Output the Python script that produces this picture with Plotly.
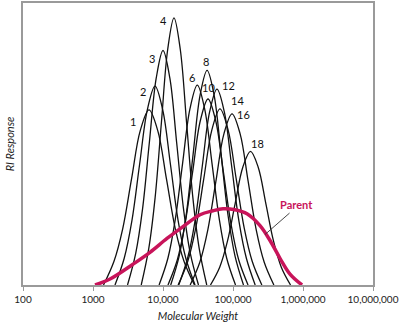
import plotly.graph_objects as go

# Fraction curves: log10(molecular weight) sample points and RI response
frac_labels = ["1", "2", "3", "4", "6", "8", "10", "12", "14", "16", "18"]

frac_logmw = [
    [3.150, 3.300, 3.425, 3.550, 3.675, 3.800, 3.925, 4.050, 4.175, 4.300, 4.450],
    [3.314, 3.446, 3.556, 3.666, 3.776, 3.886, 3.996, 4.106, 4.216, 4.326, 4.458],
    [3.493, 3.610, 3.708, 3.805, 3.903, 4.000, 4.098, 4.195, 4.293, 4.390, 4.507],
    [3.689, 3.797, 3.887, 3.977, 4.067, 4.157, 4.247, 4.337, 4.427, 4.517, 4.625],
    [3.944, 4.070, 4.175, 4.280, 4.385, 4.490, 4.595, 4.700, 4.805, 4.910, 5.036],
    [4.110, 4.230, 4.330, 4.430, 4.530, 4.630, 4.730, 4.830, 4.930, 5.030, 5.150],
    [4.071, 4.203, 4.313, 4.423, 4.533, 4.643, 4.753, 4.863, 4.973, 5.083, 5.215],
    [4.225, 4.351, 4.456, 4.561, 4.666, 4.771, 4.876, 4.981, 5.086, 5.191, 5.317],
    [4.216, 4.354, 4.469, 4.584, 4.699, 4.814, 4.929, 5.044, 5.159, 5.274, 5.412],
    [4.388, 4.526, 4.641, 4.756, 4.871, 4.986, 5.101, 5.216, 5.331, 5.446, 5.584],
    [4.678, 4.810, 4.920, 5.030, 5.140, 5.250, 5.360, 5.470, 5.580, 5.690, 5.822],
]

frac_resp = [
    [0, 24, 57, 107, 156, 177, 156, 107, 57, 24, 0],
    [0, 27, 65, 122, 177, 201, 177, 122, 65, 27, 0],
    [0, 32, 77, 144, 209, 237, 209, 144, 77, 32, 0],
    [0, 37, 88, 164, 238, 270, 238, 164, 88, 37, 0],
    [0, 27, 66, 123, 178, 202, 178, 123, 66, 27, 0],
    [0, 29, 70, 132, 192, 217, 192, 132, 70, 29, 0],
    [0, 25, 61, 114, 166, 188, 166, 114, 61, 25, 0],
    [0, 27, 64, 120, 175, 198, 175, 120, 64, 27, 0],
    [0, 24, 58, 108, 157, 178, 157, 108, 58, 24, 0],
    [0, 23, 56, 105, 153, 173, 153, 105, 56, 23, 0],
    [0, 18, 44, 82, 119, 135, 119, 82, 44, 18, 0],
]

# label anchor positions (log10 MW, response)
label_logmw = [3.571, 3.714, 3.843, 4.000, 4.414, 4.614, 4.643, 4.929, 5.071, 5.157, 5.357]
label_resp = [165, 196, 229, 267, 210, 226, 200, 202, 186, 172, 143]

# Parent distribution
parent_logmw = [3.029, 3.243, 3.571, 3.814, 4.057, 4.286, 4.529, 4.714, 4.857,
                5.029, 5.200, 5.386, 5.529, 5.671, 5.814, 5.986]
parent_resp = [0, 6, 21, 33, 47, 59, 71, 75, 77, 76, 72, 60, 45, 27, 11, 0]

tick_vals = [100, 1000, 10000, 100000, 1000000, 10000000]
tick_text = ["100", "1000", "10,000", "100,000", "1,000,000", "10,000,000"]

BLACK = "#111111"
MAGENTA = "#c8145a"
GRAY = "#9a9a9a"
FONT = "Lato"

fig = go.Figure()

for lm, r in zip(frac_logmw, frac_resp):
    fig.add_trace(go.Scatter(
        x=[10 ** v for v in lm], y=r, mode="lines",
        line=dict(color=BLACK, width=1.3, shape="spline"),
        hoverinfo="skip", showlegend=False))

fig.add_trace(go.Scatter(
    x=[10 ** v for v in parent_logmw], y=parent_resp, mode="lines",
    line=dict(color=MAGENTA, width=3.5, shape="spline"),
    hoverinfo="skip", showlegend=False))

for lab, lx, ly in zip(frac_labels, label_logmw, label_resp):
    fig.add_annotation(x=lx, y=ly, text=lab, showarrow=False,
                       font=dict(family=FONT, size=11, color=BLACK))

fig.add_annotation(x=5.457, y=51, ax=5.829, ay=74, axref="x", ayref="y",
                   text="", showarrow=True, arrowhead=0, arrowwidth=0.9,
                   arrowcolor="#333333")
fig.add_annotation(x=5.914, y=81, text="<b>Parent</b>", showarrow=False,
                   font=dict(family=FONT, size=11, color=MAGENTA))

fig.update_layout(
    width=400, height=326,
    margin=dict(l=23, r=27, t=1, b=41),
    paper_bgcolor="white", plot_bgcolor="white",
    xaxis=dict(
        type="log", range=[2, 7],
        tickvals=tick_vals, ticktext=tick_text,
        ticks="outside", ticklen=4, tickcolor=GRAY, tickwidth=1,
        tickfont=dict(family=FONT, size=10, color="#222222"),
        showgrid=False, zeroline=False,
        showline=True, linecolor=GRAY, linewidth=1.5, mirror=True,
        title=dict(text="<i>Molecular Weight</i>", standoff=9,
                   font=dict(family=FONT, size=11, color="#222222")),
    ),
    yaxis=dict(
        range=[0, 285], showticklabels=False, ticks="",
        showgrid=False, zeroline=False,
        showline=True, linecolor=GRAY, linewidth=1.5, mirror=True,
        title=dict(text="<i>RI Response</i>", standoff=4,
                   font=dict(family=FONT, size=11, color="#222222")),
    ),
)

fig.write_html("out.html")
